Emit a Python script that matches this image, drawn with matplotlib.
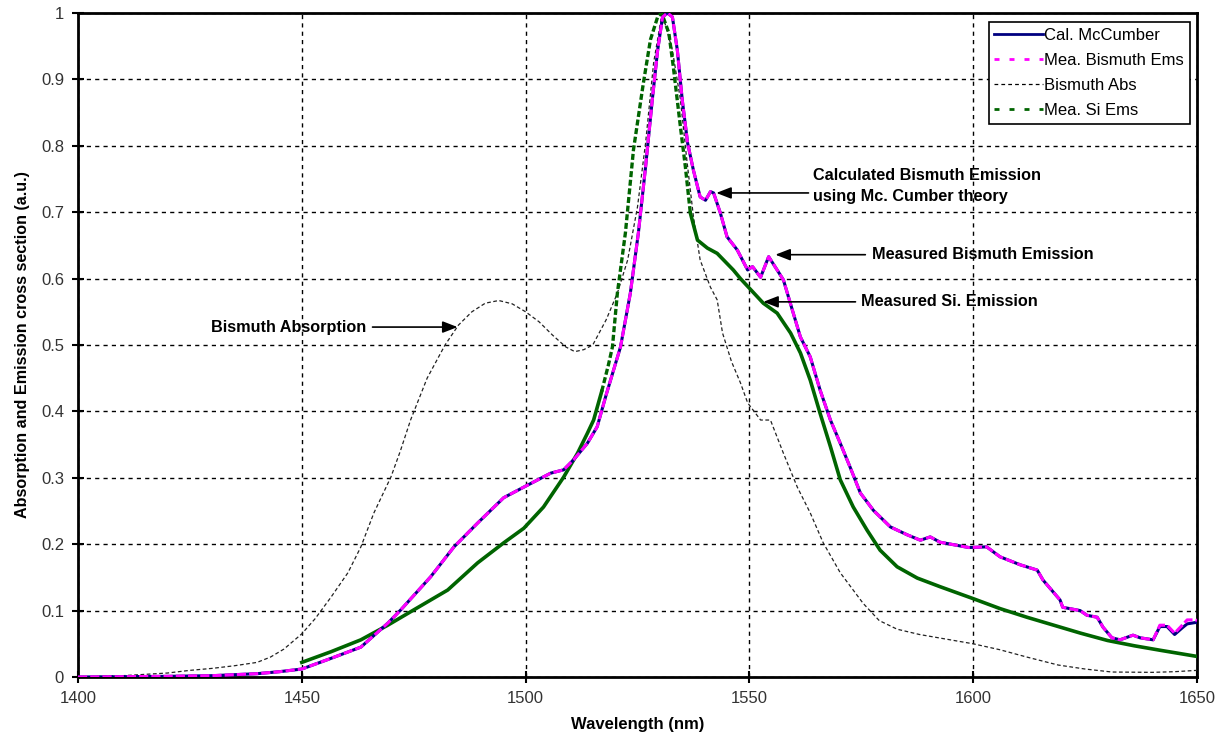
import matplotlib
matplotlib.use("Agg")
import matplotlib.pyplot as plt
from matplotlib.lines import Line2D
import numpy as np

plt.rcParams['font.family'] = ['Liberation Sans', 'DejaVu Sans']

# ---- data ----
abs_wl = [1400, 1405, 1410, 1415, 1420, 1425, 1430, 1435, 1440, 1443, 1446, 1450, 1453, 1456.5, 1460.3,
          1463.2, 1466.1, 1469.9, 1472, 1474.3, 1478, 1482, 1485, 1488, 1491, 1494, 1497, 1500, 1503, 1506,
          1509, 1511, 1513, 1515, 1518, 1520.5, 1522.8, 1525, 1526.8, 1528.6, 1530.5, 1532.8, 1534.6,
          1536, 1537.5, 1539, 1541.3, 1542.8, 1544, 1546, 1548, 1549.6, 1552.5, 1554.7, 1557.6, 1560.7,
          1563.6, 1566.5, 1570.3, 1575.4, 1579, 1583, 1588, 1594, 1600, 1606, 1612, 1619,
          1625, 1631, 1640, 1645, 1650]
abs_val = [0, 0.001, 0.002, 0.004, 0.006, 0.01, 0.013, 0.017, 0.022, 0.03, 0.042, 0.065, 0.088, 0.12, 0.157,
           0.196, 0.247, 0.301, 0.34, 0.387, 0.45, 0.5, 0.53, 0.55, 0.563, 0.567, 0.562, 0.55, 0.535, 0.515,
           0.497, 0.49, 0.493, 0.5, 0.538, 0.578, 0.628, 0.708, 0.804, 0.925, 1.0, 0.944, 0.869,
           0.78, 0.693, 0.628, 0.587, 0.568, 0.518, 0.475, 0.443, 0.413, 0.387, 0.387, 0.337, 0.286,
           0.247, 0.202, 0.157, 0.111, 0.085, 0.072, 0.064, 0.057, 0.05, 0.041, 0.03, 0.018,
           0.012, 0.0075, 0.007, 0.008, 0.01]

si_wl = [1450, 1456.5, 1463.2, 1469.2, 1475, 1482.6, 1489.3, 1495.1, 1499.6, 1504, 1508.5, 1511.6, 1513.8,
         1515.2, 1517, 1518.5, 1519.4, 1520.5, 1522.3, 1524.1, 1526.3, 1527.9, 1529.5, 1530.4, 1532, 1533,
         1534.6, 1535.7, 1536.8, 1538.4, 1540.6, 1542.8, 1546.4, 1548, 1553.1, 1556.2, 1559.2, 1561.4,
         1563.6, 1565.8, 1568.1, 1570.3, 1573.2, 1576.3, 1579.2, 1583, 1587.5, 1592.6, 1600, 1606, 1612,
         1618, 1624, 1630, 1636, 1642, 1650]
si_val = [0.022, 0.038, 0.056, 0.078, 0.101, 0.131, 0.172, 0.202, 0.224, 0.256, 0.301, 0.337, 0.367,
          0.387, 0.43, 0.47, 0.497, 0.578, 0.669, 0.794, 0.894, 0.96, 0.994, 1.0, 0.97, 0.919,
          0.828, 0.768, 0.699, 0.658, 0.646, 0.638, 0.613, 0.6, 0.563, 0.548, 0.518, 0.488,
          0.447, 0.397, 0.347, 0.297, 0.256, 0.221, 0.191, 0.166, 0.149, 0.136, 0.118, 0.103, 0.09,
          0.078, 0.066, 0.055, 0.047, 0.04, 0.031]

ems_wl = [1400, 1410, 1420, 1430, 1440, 1445, 1450, 1456.5, 1463.2, 1469.2, 1472.1, 1478.8, 1484, 1489.3,
          1495.1, 1499.6, 1505.6, 1508.5, 1510.7, 1513.8, 1516, 1518, 1520, 1521.2, 1523.4, 1525.2, 1526.8,
          1528.3, 1529.5, 1530.6, 1531.7, 1532.8, 1533.9, 1535, 1536.2, 1537.5, 1539, 1540.2, 1541.3, 1542,
          1543.5, 1545, 1547.3, 1549.6, 1550.7, 1552.5, 1554.3, 1556.2, 1557.6, 1559.8, 1561.4, 1563.6,
          1565.8, 1568.1, 1570.3, 1572.5, 1574.8, 1577.7, 1581.5, 1585.3, 1588.2, 1590.4, 1592.6, 1595,
          1599, 1603, 1606, 1610.5, 1614.3, 1615.6, 1619.4, 1620, 1623.9, 1625.4, 1627.7, 1629, 1631,
          1632.8, 1635.7, 1637.3, 1640.2, 1641.7, 1643.3, 1645, 1646.7, 1647.8, 1649.6, 1650]
ems_val = [0, 0.0005, 0.001, 0.002, 0.005, 0.008, 0.012, 0.028, 0.045, 0.081, 0.101, 0.151, 0.196, 0.232,
           0.27, 0.286, 0.307, 0.312, 0.327, 0.352, 0.377, 0.425, 0.47, 0.497, 0.578, 0.669, 0.768,
           0.869, 0.944, 0.994, 1.0, 0.994, 0.944, 0.869, 0.804, 0.763, 0.723, 0.718, 0.731, 0.729,
           0.699, 0.663, 0.643, 0.613, 0.618, 0.602, 0.633, 0.613, 0.598, 0.548, 0.512, 0.482,
           0.432, 0.387, 0.352, 0.316, 0.277, 0.251, 0.226, 0.214, 0.206, 0.211, 0.203, 0.2,
           0.195, 0.196, 0.181, 0.169, 0.161, 0.146, 0.116, 0.105, 0.1, 0.093, 0.09, 0.075, 0.059,
           0.056, 0.063, 0.059, 0.056, 0.078, 0.078, 0.066, 0.078, 0.086, 0.086, 0.085]

cal_wl = ems_wl
cal_val = [0, 0.0005, 0.001, 0.002, 0.005, 0.008, 0.012, 0.028, 0.045, 0.081, 0.101, 0.151, 0.196, 0.232,
           0.27, 0.286, 0.307, 0.312, 0.327, 0.352, 0.377, 0.425, 0.47, 0.497, 0.578, 0.669, 0.768,
           0.869, 0.944, 0.994, 1.0, 0.994, 0.944, 0.869, 0.804, 0.763, 0.723, 0.718, 0.731, 0.729,
           0.699, 0.663, 0.643, 0.613, 0.618, 0.602, 0.633, 0.613, 0.598, 0.548, 0.512, 0.482,
           0.432, 0.387, 0.352, 0.316, 0.277, 0.251, 0.226, 0.214, 0.206, 0.211, 0.203, 0.2,
           0.195, 0.196, 0.181, 0.169, 0.161, 0.146, 0.116, 0.105, 0.1, 0.093, 0.09, 0.075, 0.059,
           0.056, 0.063, 0.059, 0.056, 0.076, 0.076, 0.064, 0.074, 0.08, 0.082, 0.082]

legend_labels = ["Cal. McCumber", "Mea. Bismuth Ems", "Bismuth Abs", "Mea. Si Ems"]
x_ticks = [1400, 1450, 1500, 1550, 1600, 1650]
y_ticks = [0, 0.1, 0.2, 0.3, 0.4, 0.5, 0.6, 0.7, 0.8, 0.9, 1.0]
y_tick_labels = ["0", "0.1", "0.2", "0.3", "0.4", "0.5", "0.6", "0.7", "0.8", "0.9", "1"]

# ---- figure ----
W, H = 1223, 734
fig = plt.figure(figsize=(W / 100, H / 100), dpi=100)
ax = fig.add_axes([78 / W, (H - 677) / H, (1197 - 78) / W, (677 - 13) / H])

navy = '#000080'
magenta = '#FF00FF'
green = '#006400'

ax.plot(abs_wl, abs_val, color='#222222', lw=0.9, dashes=(3, 2), zorder=3)

# green: drawn dashed on the steep part (as the long segments show the dash pattern), solid elsewhere
si_x = np.array(si_wl)
si_y = np.array(si_val)
steep = (si_x >= 1517) & (si_x <= 1536.8)
lo = np.where(steep)[0][0]
hi = np.where(steep)[0][-1]
ax.plot(si_x[:lo + 1], si_y[:lo + 1], color=green, lw=2.6, zorder=4)
ax.plot(si_x[lo:hi + 1], si_y[lo:hi + 1], color=green, lw=2.4, dashes=(1.8, 0.8), zorder=4)
ax.plot(si_x[hi:], si_y[hi:], color=green, lw=2.6, zorder=4)

ax.plot(cal_wl, cal_val, color=navy, lw=2.2, zorder=5)
ax.plot(ems_wl, ems_val, color=magenta, lw=2.2, dashes=(3, 1), zorder=6)

ax.set_xlim(1400, 1650)
ax.set_ylim(0, 1)
ax.set_xticks(x_ticks)
ax.set_xticklabels([str(t) for t in x_ticks])
ax.set_yticks(y_ticks)
ax.set_yticklabels(y_tick_labels)
ax.grid(True, color='black', linestyle=(0, (3, 3)), linewidth=1.0)
ax.set_axisbelow(True)
for s in ax.spines.values():
    s.set_linewidth(2)
    s.set_color('black')
ax.tick_params(direction='inout', length=8, width=1.5, labelsize=12, labelcolor='#333333', pad=6)

ax.set_xlabel("Wavelength (nm)", fontsize=12, fontweight='bold', labelpad=8)
ax.set_ylabel("Absorption and Emission cross section (a.u.)", fontsize=11.6, fontweight='bold', labelpad=8)

handles = [
    Line2D([], [], color=navy, lw=2),
    Line2D([], [], color=magenta, lw=2, dashes=(1.8, 3.6)),
    Line2D([], [], color='black', lw=0.9, dashes=(3, 2.5)),
    Line2D([], [], color=green, lw=2, dashes=(1.8, 3.6)),
]
leg = ax.legend(handles, legend_labels, loc='upper right', bbox_to_anchor=(1190 / W, (H - 22) / H),
                bbox_transform=fig.transFigure, fontsize=12, frameon=True, fancybox=False,
                edgecolor='black', framealpha=1, borderpad=0.35, labelspacing=0.6,
                handlelength=2.9, handletextpad=0.1, borderaxespad=0)
leg.get_frame().set_linewidth(1.2)
leg.set_zorder(10)

arrow_kw = dict(arrowstyle='-|>,head_length=0.9,head_width=0.35', color='black', lw=1.2,
                shrinkA=0, shrinkB=0)
txt_kw = dict(fontsize=11.7, fontweight='bold', color='black', va='center', ha='left', zorder=8)

ax.annotate('', xy=(1542.6, 0.729), xytext=(1563.2, 0.729), arrowprops=arrow_kw, zorder=8)
ax.text(1564.1, 0.739, "Calculated Bismuth Emission\nusing Mc. Cumber theory", linespacing=1.5, **txt_kw)

ax.annotate('', xy=(1555.8, 0.636), xytext=(1575.9, 0.636), arrowprops=arrow_kw, zorder=8)
ax.text(1577.5, 0.636, "Measured Bismuth Emission", **txt_kw)

ax.annotate('', xy=(1553.1, 0.565), xytext=(1573.7, 0.565), arrowprops=arrow_kw, zorder=8)
ax.text(1575.0, 0.565, "Measured Si. Emission", **txt_kw)

ax.annotate('', xy=(1484.8, 0.527), xytext=(1465.8, 0.527), arrowprops=arrow_kw, zorder=8)
ax.text(1429.7, 0.527, "Bismuth Absorption", **txt_kw)

fig.savefig("out.png", dpi=100)
